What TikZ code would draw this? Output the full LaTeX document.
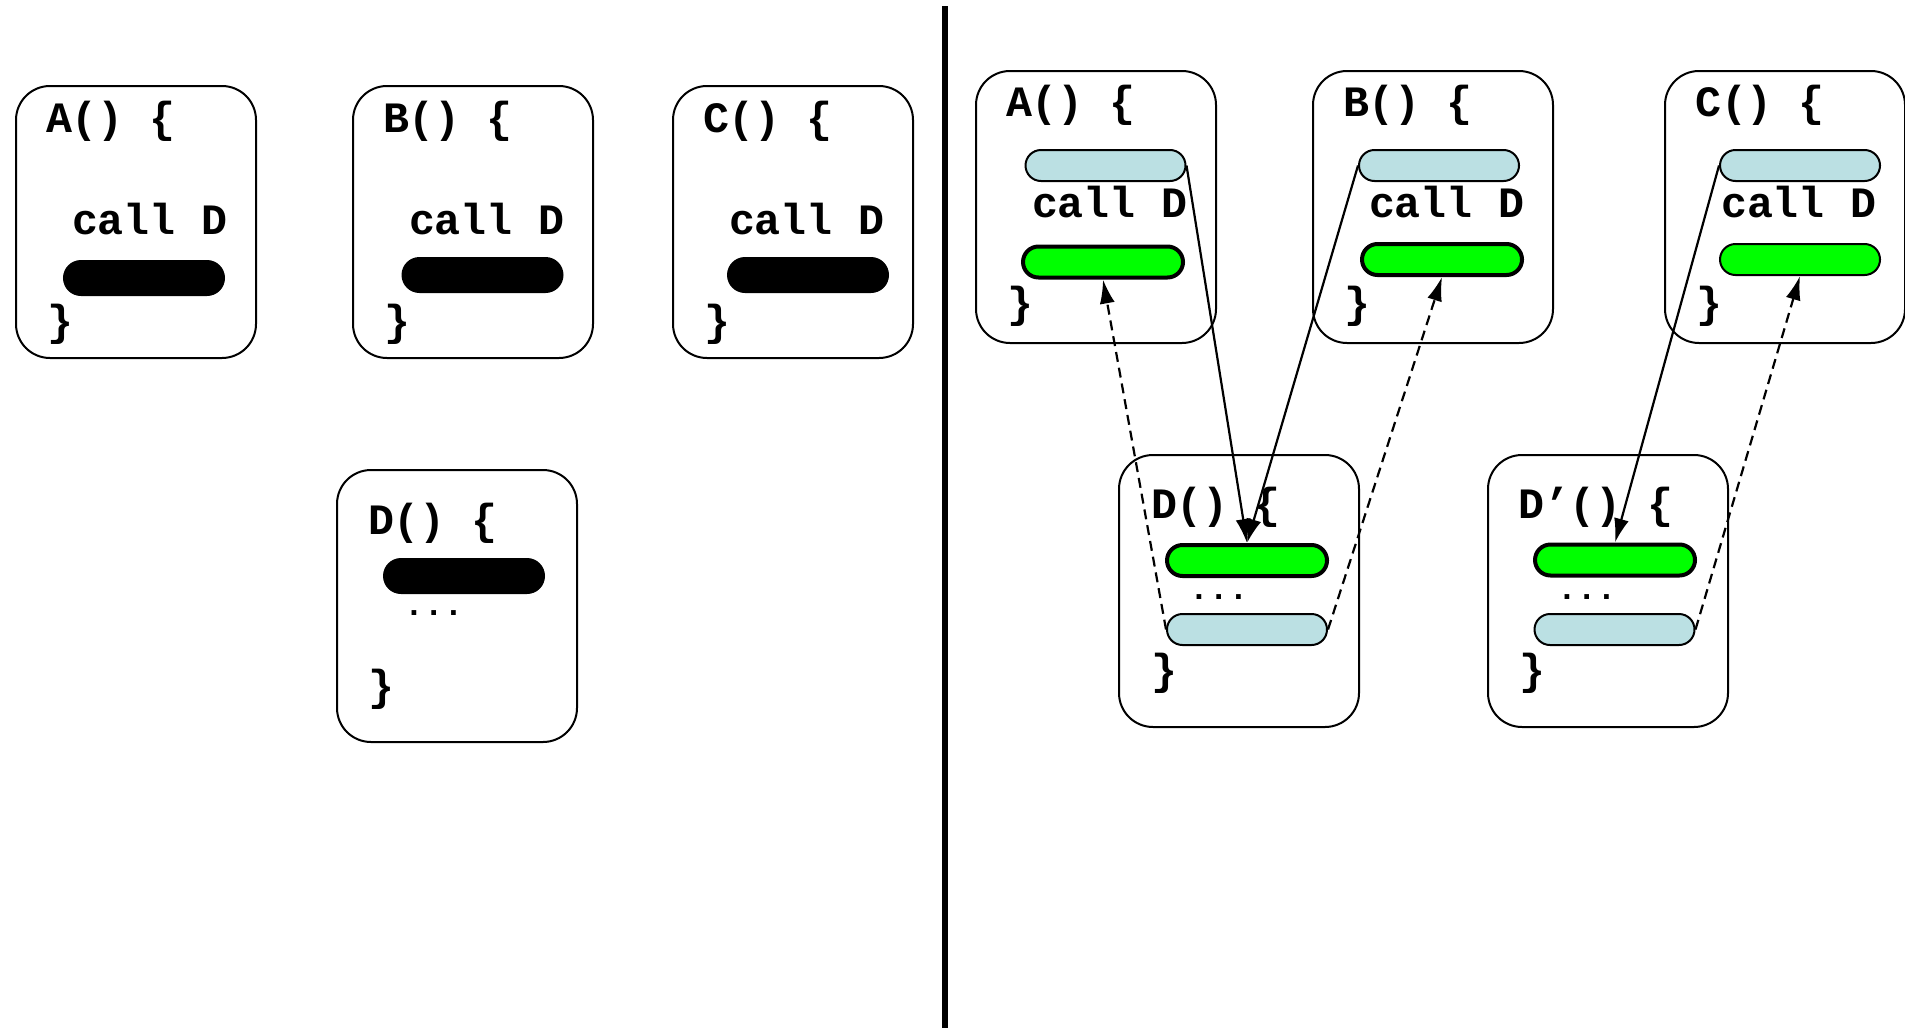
\documentclass[tikz,border=0pt]{standalone}
\usepackage{fontspec}
\usetikzlibrary{arrows.meta, positioning, shapes.misc}
\newfontfamily\codefont{Liberation Mono}
\definecolor{callblue}{RGB}{187,224,227}
\definecolor{retgreen}{RGB}{0,255,0}
\def\boxw{240pt}
\def\boxh{272pt}

\begin{document}
\begin{tikzpicture}[x=1pt, y=-1pt, line width=2pt]
    \tikzstyle{frame}=[draw, rectangle, rounded corners=34pt, minimum width=\boxw, minimum height=\boxh, anchor=north west, inner sep=0pt]
    \tikzstyle{code}=[font=\codefont\bfseries\fontsize{43.3}{52}\selectfont, anchor=base west, inner sep=0pt]
    \tikzstyle{dots}=[code, font=\codefont\bfseries\fontsize{33}{40}\selectfont]
    \tikzstyle{bar}=[rounded rectangle, draw, minimum width=160pt, inner sep=0pt]
    \tikzstyle{black bar}=[bar, fill=black, minimum height=34pt]
    \tikzstyle{call bar}=[bar, fill=callblue, minimum height=31pt]
    \tikzstyle{ret bar}=[bar, fill=retgreen, minimum height=31pt]
    \tikzstyle{call}=[-{Latex[length=24pt,width=15pt]}, line width=2.2pt]
    \tikzstyle{ret}=[call, dash pattern=on 10pt off 6pt]

    \path[fill=white] (0,0) rectangle (1905,1028);
    \useasboundingbox (0,0) rectangle (1905,1028);

    % Left half: one D shared by everybody
    \foreach \name/\x/\bx/\by in {A/15/129/278, B/352/130.5/275, C/672/136/275} {
        \node[frame] (L-\name) at (\x,85) {};
        \node[code] (L-\name-head) at (\x+30,132) {\name() \{};
        \node[code] (L-\name-call) at (\x+56,234) {call D};
        \node[black bar] (L-\name-bar) at (\x+\bx,\by) {};
        \node[code] (L-\name-end) at (\x+31,335) {\}};
    }

    \node[frame] (L-D) at (336,469) {};
    \node[code] (L-D-head) at (367,534) {D() \{};
    \node[black bar] (L-D-bar) at (464,576) {};
    \node[dots] (L-D-dots) at (403,615) {...};
    \node[code] (L-D-end) at (367.5,700) {\}};

    % the split
    \coordinate (split-top) at (945,6);
    \coordinate (split-bottom) at (945,1028);
    \draw[line width=6.5pt] (split-top) -- (split-bottom);

    % Right half: callers with call and return points
    \foreach \name/\x/\cx/\rx/\ry/\lw in {A/975/130.5/128/262/4pt, B/1312/127/130/259.5/4pt, C/1664/136/136/259.5/2pt} {
        \node[frame] (R-\name) at (\x,70) {};
        \node[code] (R-\name-head) at (\x+30,116) {\name() \{};
        \node[call bar] (R-\name-call) at (\x+\cx,165.5) {};
        \node[code] (R-\name-text) at (\x+56,217) {call D};
        \node[ret bar, line width=\lw] (R-\name-ret) at (\x+\rx,\ry) {};
        \node[code] (R-\name-end) at (\x+31,317) {\}};
    }

    % D and its copy D'
    \node[frame] (R-D) at (1118,454) {};
    \node[code] (R-D-head) at (1150,518) {D() \{};
    \node[ret bar, line width=4pt] (R-D-entry) at (1247,560.5) {};
    \node[dots] (R-D-dots) at (1188,599) {...};
    \node[call bar] (R-D-exit) at (1247,629.5) {};
    \node[code] (R-D-end) at (1150.5,684) {\}};

    \node[frame] (R-DD) at (1487,454) {};
    \node[code] (R-DD-head) at (1517,518) {D’() \{};
    \node[ret bar, line width=4pt] (R-DD-entry) at (1615,560) {};
    \node[dots] (R-DD-dots) at (1556,599) {...};
    \node[call bar] (R-DD-exit) at (1614.5,629.5) {};
    \node[code] (R-DD-end) at (1518.5,684) {\}};

    % calls go down, returns come back up
    \draw[call] (R-A-call.east) -- (R-D-entry.north);
    \draw[call] (R-B-call.west) -- (R-D-entry.north);
    \draw[call] (R-C-call.west) -- (R-DD-entry.north);
    \draw[ret] (R-D-exit.west) -- (R-A-ret.south);
    \draw[ret] (R-D-exit.east) -- (R-B-ret.south);
    \draw[ret] (R-DD-exit.east) -- (R-C-ret.south);
\end{tikzpicture}
\end{document}
